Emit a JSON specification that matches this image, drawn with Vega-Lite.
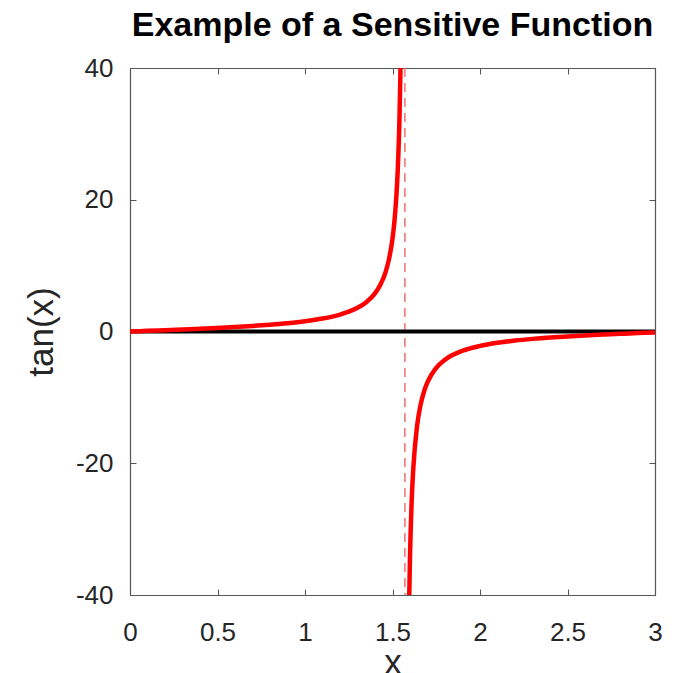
{
  "$schema": "https://vega.github.io/schema/vega-lite/v6.json",
  "width": 525,
  "height": 527,
  "autosize": {"type": "none"},
  "padding": {"left": 130, "top": 68, "right": 24, "bottom": 78},
  "background": "white",
  "title": {"text": "Example of a Sensitive Function", "font": "Liberation Sans", "fontSize": 34, "fontWeight": "bold", "color": "#000000", "offset": 12, "anchor": "middle"},
  "config": {
    "view": {"stroke": "#555555", "strokeWidth": 1},
    "axis": {"grid": false, "labelFont": "Liberation Sans", "titleFont": "Liberation Sans", "labelColor": "#262626", "titleColor": "#262626", "labelFontSize": 26, "titleFontSize": 35, "titleFontWeight": "normal", "domainColor": "#555555", "tickColor": "#555555", "tickSize": -6, "domainWidth": 1.2, "labelFlush": false, "labelBound": false, "labelOverlap": false}
  },
  "datasets": {
    "tan": [
      {"x": 0.0, "y": 0.0, "branch": "a"},
      {"x": 0.1, "y": 0.1003, "branch": "a"},
      {"x": 0.2, "y": 0.2027, "branch": "a"},
      {"x": 0.3, "y": 0.3093, "branch": "a"},
      {"x": 0.4, "y": 0.4228, "branch": "a"},
      {"x": 0.5, "y": 0.5463, "branch": "a"},
      {"x": 0.6, "y": 0.6841, "branch": "a"},
      {"x": 0.7, "y": 0.8423, "branch": "a"},
      {"x": 0.8, "y": 1.0296, "branch": "a"},
      {"x": 0.9, "y": 1.2602, "branch": "a"},
      {"x": 1.0, "y": 1.5574, "branch": "a"},
      {"x": 1.1, "y": 1.9648, "branch": "a"},
      {"x": 1.2, "y": 2.5722, "branch": "a"},
      {"x": 1.25, "y": 3.0096, "branch": "a"},
      {"x": 1.3, "y": 3.6021, "branch": "a"},
      {"x": 1.35, "y": 4.4552, "branch": "a"},
      {"x": 1.4, "y": 5.7979, "branch": "a"},
      {"x": 1.43, "y": 7.0555, "branch": "a"},
      {"x": 1.46, "y": 8.988, "branch": "a"},
      {"x": 1.48, "y": 10.983, "branch": "a"},
      {"x": 1.5, "y": 14.1, "branch": "a"},
      {"x": 1.51, "y": 16.43, "branch": "a"},
      {"x": 1.52, "y": 19.67, "branch": "a"},
      {"x": 1.53, "y": 24.5, "branch": "a"},
      {"x": 1.54, "y": 32.46, "branch": "a"},
      {"x": 1.5458, "y": 40.0, "branch": "a"},
      {"x": 1.5958, "y": -40.0, "branch": "b"},
      {"x": 1.6, "y": -34.23, "branch": "b"},
      {"x": 1.61, "y": -25.49, "branch": "b"},
      {"x": 1.62, "y": -20.31, "branch": "b"},
      {"x": 1.64, "y": -14.43, "branch": "b"},
      {"x": 1.66, "y": -11.18, "branch": "b"},
      {"x": 1.68, "y": -9.12, "branch": "b"},
      {"x": 1.7, "y": -7.6966, "branch": "b"},
      {"x": 1.75, "y": -5.5204, "branch": "b"},
      {"x": 1.8, "y": -4.2863, "branch": "b"},
      {"x": 1.9, "y": -2.9271, "branch": "b"},
      {"x": 2.0, "y": -2.185, "branch": "b"},
      {"x": 2.1, "y": -1.7098, "branch": "b"},
      {"x": 2.2, "y": -1.3738, "branch": "b"},
      {"x": 2.3, "y": -1.1192, "branch": "b"},
      {"x": 2.4, "y": -0.916, "branch": "b"},
      {"x": 2.5, "y": -0.747, "branch": "b"},
      {"x": 2.6, "y": -0.6016, "branch": "b"},
      {"x": 2.7, "y": -0.4727, "branch": "b"},
      {"x": 2.8, "y": -0.3555, "branch": "b"},
      {"x": 2.9, "y": -0.2464, "branch": "b"},
      {"x": 3.0, "y": -0.1425, "branch": "b"}
    ],
    "zero": [{"x": 0, "y": 0}, {"x": 3, "y": 0}],
    "asym": [{"x": 1.5708}]
  },
  "layer": [
    {
      "data": {"name": "asym"},
      "mark": {"type": "rule", "color": "#f07070", "strokeWidth": 1.5, "strokeDash": [9, 6]},
      "encoding": {
        "x": {"field": "x", "type": "quantitative", "scale": {"domain": [0, 3], "nice": false, "zero": false}, "axis": {"orient": "bottom", "values": [0, 0.5, 1, 1.5, 2, 2.5, 3], "labelExpr": "'' + datum.value", "title": "x", "labelPadding": 30, "titlePadding": 0}}
      }
    },
    {
      "data": {"name": "zero"},
      "mark": {"type": "line", "color": "#000000", "strokeWidth": 4},
      "encoding": {
        "x": {"field": "x", "type": "quantitative", "scale": {"domain": [0, 3], "nice": false}, "axis": {"orient": "top", "values": [0, 0.5, 1, 1.5, 2, 2.5, 3], "labels": false, "title": null}},
        "y": {"field": "y", "type": "quantitative", "scale": {"domain": [-40, 40], "nice": false}, "axis": {"orient": "right", "values": [-40, -20, 0, 20, 40], "labels": false, "title": null}}
      }
    },
    {
      "data": {"name": "tan"},
      "mark": {"type": "line", "color": "#ff0000", "strokeWidth": 4.5, "interpolate": "monotone", "clip": true},
      "encoding": {
        "x": {"field": "x", "type": "quantitative", "scale": {"domain": [0, 3], "nice": false}, "axis": null},
        "y": {"field": "y", "type": "quantitative", "scale": {"domain": [-40, 40], "nice": false}, "axis": {"orient": "left", "values": [-40, -20, 0, 20, 40], "labelExpr": "'' + datum.value", "title": "tan(x)", "labelPadding": 23, "titlePadding": 16}},
        "detail": {"field": "branch"}
      }
    }
  ],
  "resolve": {"axis": {"x": "independent", "y": "independent"}}
}
